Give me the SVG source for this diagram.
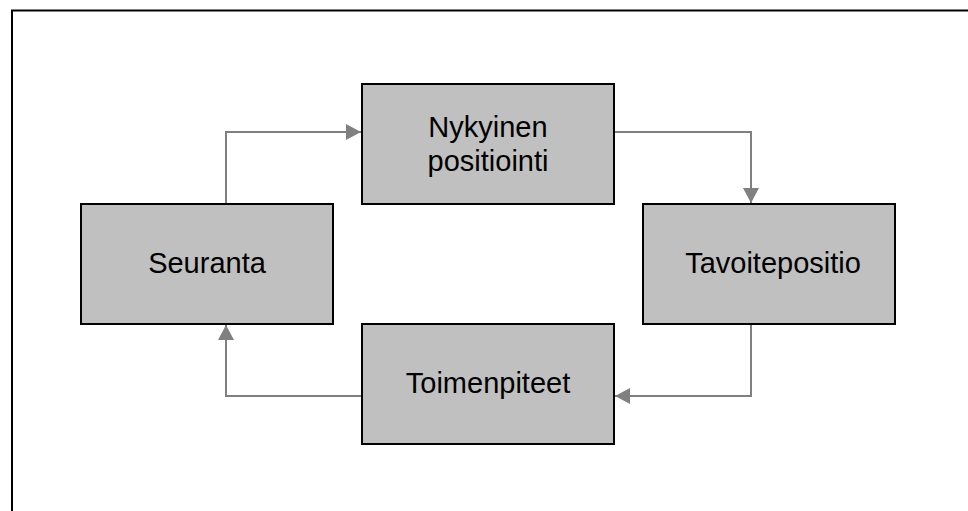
<svg xmlns="http://www.w3.org/2000/svg" width="968" height="511" viewBox="0 0 968 511">
<style>
.box{fill:#c0c0c0;stroke:#000;stroke-width:2}
.lbl{font-family:"Liberation Sans",Arial,sans-serif;font-size:29px;fill:#000;text-anchor:middle}
.con{fill:none;stroke:#808080;stroke-width:2}
</style>
<defs>
<marker id="ah" markerWidth="15" markerHeight="16" refX="15" refY="8" orient="auto" markerUnits="userSpaceOnUse">
<path d="M0,0 L15,8 L0,16 Z" fill="#808080"/>
</marker>
</defs>
<rect width="968" height="511" fill="#fff"/>
<path d="M12,511 V10.5 H968" fill="none" stroke="#000" stroke-width="2"/>
<g id="connectors">
<path class="con" d="M226,204 V132 H361" marker-end="url(#ah)"/>
<path class="con" d="M614,132 H751 V203" marker-end="url(#ah)"/>
<path class="con" d="M751,324 V396 H615" marker-end="url(#ah)"/>
<path class="con" d="M362,396 H226 V325" marker-end="url(#ah)"/>
</g>
<g id="nykyinen">
<rect class="box" x="362" y="84" width="252" height="120"/>
<text class="lbl" x="488" y="137">Nykyinen</text>
<text class="lbl" x="488" y="171">positiointi</text>
</g>
<g id="tavoitepositio">
<rect class="box" x="643" y="204" width="252" height="120"/>
<text class="lbl" x="773" y="273">Tavoitepositio</text>
</g>
<g id="toimenpiteet">
<rect class="box" x="362" y="324" width="252" height="120"/>
<text class="lbl" x="488" y="393">Toimenpiteet</text>
</g>
<g id="seuranta">
<rect class="box" x="81" y="204" width="252" height="120"/>
<text class="lbl" x="207" y="273">Seuranta</text>
</g>
</svg>
